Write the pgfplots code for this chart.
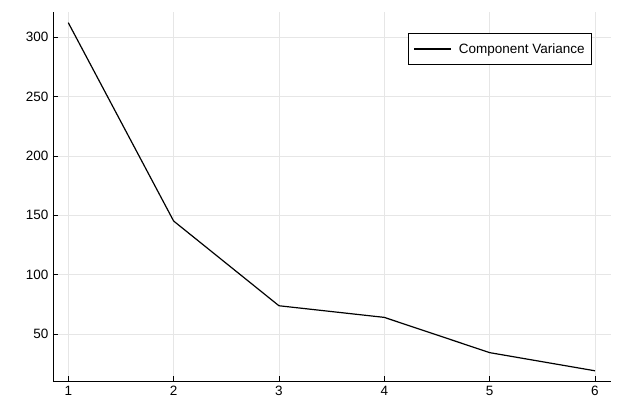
\documentclass[border=0pt]{standalone}
\usepackage{fontspec}
\setmainfont{Liberation Sans}
\usepackage{pgfplots}
\pgfplotsset{compat=1.18}
\definecolor{gridgray}{HTML}{E6E6E6}

\begin{document}
\begin{tikzpicture}
\path[use as bounding box] (-53bp,-34bp) rectangle (570bp,381bp);
\begin{axis}[
  at={(0,0)}, anchor=south west,
  scale only axis, width=558bp, height=369bp,
  xmin=0.855, xmax=6.152, ymin=10.4, ymax=321.3,
  axis lines=left, axis line style={-, black, line width=0.9bp},
  xtick={1,...,6}, ytick={50,100,...,300},
  tick align=inside, major tick length=5bp,
  tick style={black, line width=0.8bp},
  grid=major, major grid style={gridgray, line width=0.6bp},
  tick label style={font=\fontsize{13.5bp}{16bp}\selectfont},
  /pgf/number format/assume math mode=true,
  xticklabel style={yshift=-2bp}, yticklabel style={xshift=-1bp},
  legend style={at={(rel axis cs:0.966,0.943)}, anchor=north east,
    draw=black, line width=0.8bp, inner xsep=5bp, inner ysep=8bp,
    font=\fontsize{13.5bp}{16bp}\selectfont},
  legend cell align=left,
  legend image code/.code={\draw[black, line width=1.2bp] (0bp,0bp) -- (37bp,0bp);
    \path (42bp,0bp);},
]
\addplot[black, line width=1.2bp] coordinates {
  (1,312.3) (2,145.2) (3,73.8) (4,64.0) (5,34.3) (6,19.0)
};
\addlegendentry{Component Variance}
\end{axis}
\end{tikzpicture}
\end{document}
